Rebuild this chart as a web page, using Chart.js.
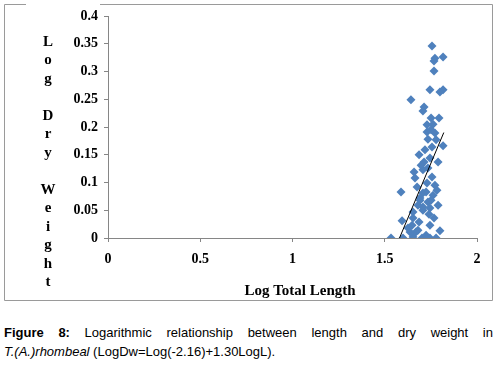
<!DOCTYPE html>
<html>
<head>
<meta charset="utf-8">
<script src="https://cdn.jsdelivr.net/npm/chart.js@4"></script>
<style>
  html, body { margin: 0; padding: 0; background: #fff; }
  #wrap { position: absolute; left: 0; top: 0; width: 500px; height: 305px; }
  .cap { position: absolute; left: 4px; width: 489px; font-family: "Liberation Sans", Arial, sans-serif; font-size: 13px; line-height: 19px; color: #000; }
  #cap1 { top: 323px; text-align: justify; text-align-last: justify; }
  #cap2 { top: 342px; }
</style>
</head>
<body>
<div id="wrap"><canvas id="chart" width="500" height="305"></canvas></div>
<div class="cap" id="cap1"><b>Figure 8:</b> Logarithmic relationship between length and dry weight in</div>
<div class="cap" id="cap2"><i>T.(A.)rhombeal</i> (LogDw=Log(-2.16)+1.30LogL).</div>
<script>
// Sample data
const logLength = [
  1.756, 1.772, 1.816, 1.767, 1.767, 1.745, 1.816, 1.799, 1.642, 1.713,
  1.707, 1.751, 1.794, 1.729, 1.762, 1.729, 1.772, 1.734, 1.756, 1.816,
  1.686, 1.713, 1.745, 1.789, 1.659, 1.707, 1.756, 1.729, 1.772, 1.588,
  1.707, 1.762, 1.691, 1.734, 1.789, 1.707, 1.745, 1.653, 1.594, 1.653,
  1.648, 1.680, 1.745, 1.799, 1.534, 1.599, 1.653, 1.702, 1.745, 1.778,
  1.669, 1.637, 1.675, 1.691, 1.707, 1.724, 1.697, 1.734, 1.718, 1.778,
  1.751, 1.664, 1.740, 1.686, 1.767, 1.724, 1.626, 1.783, 1.751, 1.680
];
const logDryWeight = [
  0.346, 0.324, 0.326, 0.319, 0.301, 0.267, 0.267, 0.263, 0.249, 0.236,
  0.229, 0.216, 0.216, 0.204, 0.205, 0.191, 0.189, 0.178, 0.164, 0.166,
  0.150, 0.137, 0.144, 0.137, 0.119, 0.123, 0.110, 0.099, 0.095, 0.083,
  0.081, 0.077, 0.068, 0.065, 0.059, 0.050, 0.054, 0.047, 0.031, 0.036,
  0.023, 0.014, 0.023, 0.013, 0.000, 0.000, 0.002, 0.000, 0.000, 0.000,
  0.011, 0.011, 0.092, 0.072, 0.056, 0.083, 0.131, 0.126, 0.159, 0.177,
  0.195, 0.108, 0.043, 0.029, 0.036, 0.005, 0.018, 0.086, 0.068, 0.059
];
const trendX = [1.58, 1.82];
const trendY = [0, 0.19];
const yTitleLines = ['L', 'o', 'g', '', 'D', 'r', 'y', '', 'W', 'e', 'i', 'g', 'h', 't'];
const xTitle = 'Log Total Length';

const serif = '"Liberation Serif", "Times New Roman", serif';
const axisGray = '#868686';

// trim trailing zeros like Excel does: 0.40 -> 0.4, 2.0 -> 2
const plainNumber = (v) => String(Number(Number(v).toFixed(2)));

// frame around the chart plus the Excel-style axis titles
const framePlugin = {
  id: 'frame',
  beforeDraw(chart) {
    const c = chart.ctx;
    c.save();
    c.strokeStyle = '#9a9a9a';
    c.lineWidth = 1;
    c.beginPath();
    c.moveTo(26, 4.5); c.lineTo(4.5, 4.5); c.lineTo(4.5, 300.5);
    c.lineTo(492.5, 300.5); c.lineTo(492.5, 4.5); c.lineTo(100, 4.5);
    c.stroke();
    c.restore();
  },
  afterDraw(chart) {
    const c = chart.ctx;
    c.save();
    c.fillStyle = '#000';
    c.font = 'bold 15px ' + serif;
    c.textAlign = 'center';
    c.textBaseline = 'middle';
    yTitleLines.forEach((ch, i) => {
      if (ch) c.fillText(ch, 48, 42 + i * 18.5);
    });
    c.fillText(xTitle, 300, 291);
    c.restore();
  }
};

const points = logLength.map((x, i) => ({ x: x, y: logDryWeight[i] }));
const trend = trendX.map((x, i) => ({ x: x, y: trendY[i] }));

new Chart(document.getElementById('chart').getContext('2d'), {
  type: 'scatter',
  data: {
    datasets: [{
      data: points,
      pointStyle: 'rectRot',
      pointRadius: 4.5,
      pointHoverRadius: 4.5,
      backgroundColor: '#4F81BD',
      borderColor: '#4F81BD',
      borderWidth: 0,
      order: 2
    }, {
      type: 'line',
      data: trend,
      borderColor: '#000',
      borderWidth: 1,
      pointRadius: 0,
      fill: false,
      order: 1
    }]
  },
  options: {
    responsive: false,
    animation: false,
    layout: { padding: { left: 0, right: 23, top: 16, bottom: 0 } },
    plugins: {
      legend: { display: false },
      tooltip: { enabled: false }
    },
    scales: {
      x: {
        type: 'linear',
        min: 0,
        max: 2,
        afterFit: (s) => { s.height = 67; },
        ticks: {
          stepSize: 0.5,
          color: '#000',
          padding: 9,
          maxRotation: 0,
          callback: plainNumber,
          font: { family: serif, size: 14, weight: 'bold' }
        },
        grid: { drawOnChartArea: false, tickLength: 4, color: axisGray },
        border: { color: axisGray }
      },
      y: {
        min: 0,
        max: 0.4,
        afterFit: (s) => { s.width = 108; },
        ticks: {
          stepSize: 0.05,
          color: '#000',
          padding: 6,
          callback: plainNumber,
          font: { family: serif, size: 14, weight: 'bold' }
        },
        grid: { drawOnChartArea: false, tickLength: 4, color: axisGray },
        border: { color: axisGray }
      }
    }
  },
  plugins: [framePlugin]
});
</script>
</body>
</html>
